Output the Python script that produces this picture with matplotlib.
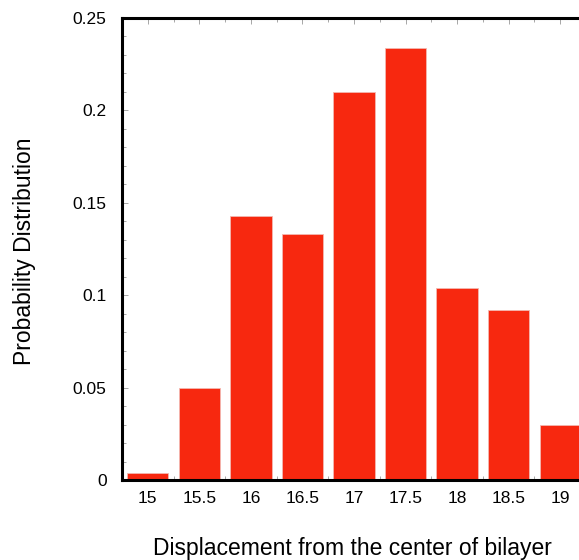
import numpy as np
import matplotlib.pyplot as plt
from matplotlib.ticker import MultipleLocator

plt.rcParams['font.family'] = ['Liberation Sans', 'DejaVu Sans']

# Histogram of displacement from the bilayer centre
displacement = [15, 15.5, 16, 16.5, 17, 17.5, 18, 18.5, 19]
probability = [0.004, 0.050, 0.143, 0.133, 0.210, 0.234, 0.104, 0.092, 0.030]
tick_labels = ['15', '15.5', '16', '16.5', '17', '17.5', '18', '18.5', '19']

fig = plt.figure(figsize=(5.79, 5.60), dpi=100)
ax = fig.add_axes([122 / 579, 80 / 560, 464 / 579, 462 / 560])

ax.bar(displacement, probability, width=0.4, color='#f7280f',
       edgecolor='#f4b8b0', linewidth=0.6, zorder=2)

ax.set_xlim(14.75, 19.25)
ax.set_ylim(0, 0.25)

ax.set_xticks(displacement)
ax.set_xticklabels(tick_labels)
ax.xaxis.set_minor_locator(MultipleLocator(0.25))
ax.set_yticks([0, 0.05, 0.1, 0.15, 0.2, 0.25])
ax.set_yticklabels(['0', '0.05', '0.1', '0.15', '0.2', '0.25'])
ax.yaxis.set_minor_locator(MultipleLocator(0.01))

ax.tick_params(which='both', direction='in', top=True, right=True,
               color='#999999', labelsize=12.5)
ax.tick_params(which='major', length=4, width=0.6)
ax.tick_params(which='minor', length=3, width=0.6)
ax.tick_params(axis='x', pad=8)
ax.tick_params(axis='y', pad=11)

for side in ['left', 'bottom', 'top']:
    ax.spines[side].set_linewidth(2.2)
ax.spines['right'].set_visible(False)

# axis titles placed in figure coordinates since the axes run past the right edge
fig.text(352 / 579, 1 - 548 / 560, 'Displacement from the center of bilayer',
         fontsize=16.5, ha='center', va='center')
fig.text(25 / 579, 1 - 251 / 560, 'Probability Distribution', rotation=90,
         fontsize=16.5, ha='center', va='center')

fig.savefig('out.png', dpi=100)
